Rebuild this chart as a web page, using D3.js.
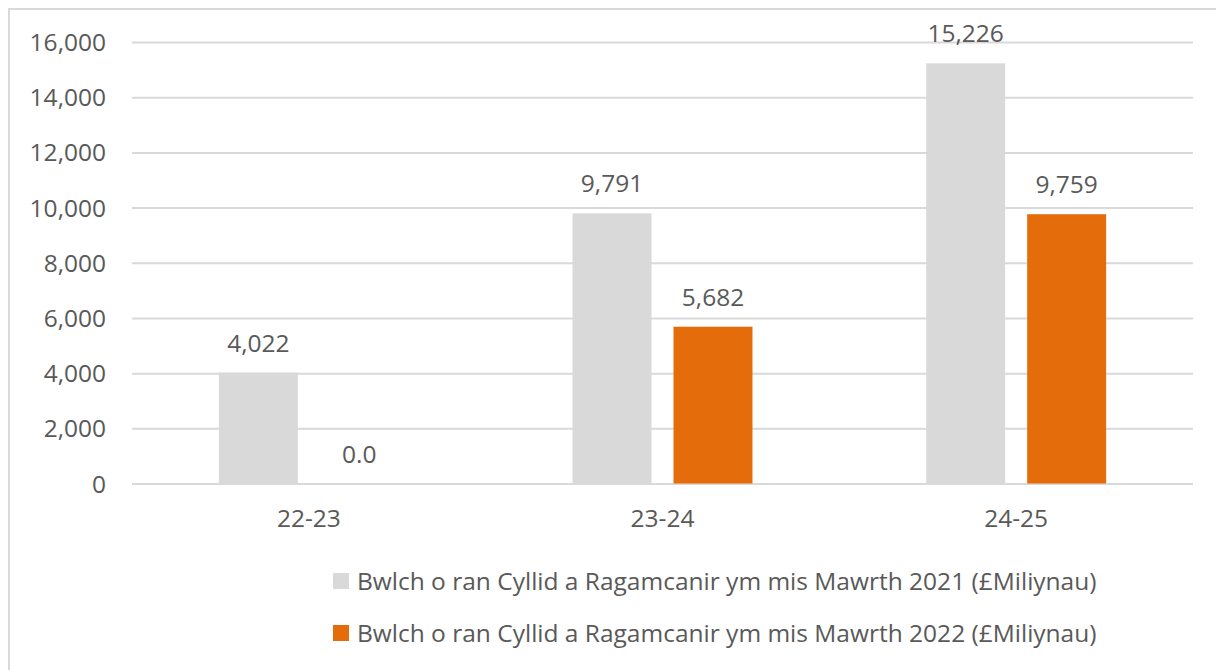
<!DOCTYPE html>
<html>
<head>
<meta charset="utf-8">
<script src="https://cdn.jsdelivr.net/npm/d3@7"></script>
<style>
  html, body { margin: 0; padding: 0; background: #fff; }
  svg { display: block; }
  text { font-family: "Open Sans", "Noto Sans", sans-serif; fill: #595959; }
</style>
</head>
<body>
<svg id="chart" width="1216" height="670"></svg>
<script>
const categories = ["22-23", "23-24", "24-25"];
const seriesNames = [
  "Bwlch o ran Cyllid a Ragamcanir ym mis Mawrth 2021 (£Miliynau)",
  "Bwlch o ran Cyllid a Ragamcanir ym mis Mawrth 2022 (£Miliynau)"
];
const values2021 = [4022, 9791, 15226];
const values2022 = [0, 5682, 9759];
const labels2021 = ["4,022", "9,791", "15,226"];
const labels2022 = ["0.0", "5,682", "9,759"];
const yTicks = [0, 2000, 4000, 6000, 8000, 10000, 12000, 14000, 16000];
const colors = ["#d9d9d9", "#e46c0a"];

const FS = "24.5px";
const svg = d3.select("#chart");
const margin = { left: 132, right: 1193, top: 42, bottom: 483.5 };

// outer border (top and left visible, extends past right/bottom edge)
svg.append("rect")
  .attr("x", 9).attr("y", 9).attr("width", 1230).attr("height", 700)
  .attr("fill", "none").attr("stroke", "#d9d9d9").attr("stroke-width", 2);

const x = d3.scaleBand().domain(categories).range([margin.left, margin.right]);
const y = d3.scaleLinear().domain([0, 16000]).range([margin.bottom, margin.top]);
const sub = d3.scaleBand().domain([0, 1]).range([0, x.bandwidth()]).paddingInner(0.218).paddingOuter(0.86);

// gridlines + y labels
const yAxis = d3.axisLeft(y).tickValues(yTicks).tickSize(0).tickPadding(0)
  .tickFormat(d3.format(","));
const gy = svg.append("g").attr("transform", `translate(${margin.left},0)`).call(yAxis);
gy.select(".domain").remove();
gy.selectAll(".tick text")
  .attr("x", -26).attr("dy", "0.35em")
  .style("font-size", FS).attr("fill", "#595959")
  .style("font-family", "'Open Sans', sans-serif");
gy.selectAll(".tick").append("line")
  .attr("x1", 0).attr("x2", margin.right - margin.left)
  .attr("stroke", "#d9d9d9").attr("stroke-width", 2);

// x axis labels
const xAxis = d3.axisBottom(x).tickSize(0).tickPadding(0);
const gx = svg.append("g").attr("transform", `translate(0,${margin.bottom})`).call(xAxis);
gx.select(".domain").remove();
gx.selectAll(".tick text")
  .attr("y", 43).attr("dy", 0)
  .style("font-size", FS).attr("fill", "#595959")
  .style("font-family", "'Open Sans', sans-serif");

const series = [values2021, values2022];
const labels = [labels2021, labels2022];

series.forEach((vals, si) => {
  const g = svg.append("g");
  g.selectAll("rect").data(categories).join("rect")
    .attr("x", (c) => x(c) + sub(si))
    .attr("width", sub.bandwidth())
    .attr("y", (c, i) => y(vals[i]))
    .attr("height", (c, i) => y(0) - y(vals[i]))
    .attr("fill", colors[si]);
  g.selectAll("text").data(categories).join("text")
    .attr("x", (c) => x(c) + sub(si) + sub.bandwidth() / 2)
    .attr("y", (c, i) => y(vals[i]) - 21)
    .attr("text-anchor", "middle")
    .style("font-size", FS)
    .text((c, i) => labels[si][i]);
});

// legend
const legend = svg.append("g");
seriesNames.forEach((name, i) => {
  const ly = 590 + i * 52;
  legend.append("rect")
    .attr("x", 333).attr("y", ly - 17).attr("width", 16).attr("height", 16)
    .attr("fill", colors[i]);
  legend.append("text")
    .attr("x", 357).attr("y", ly)
    .style("font-size", FS)
    .text(name);
});
</script>
</body>
</html>
